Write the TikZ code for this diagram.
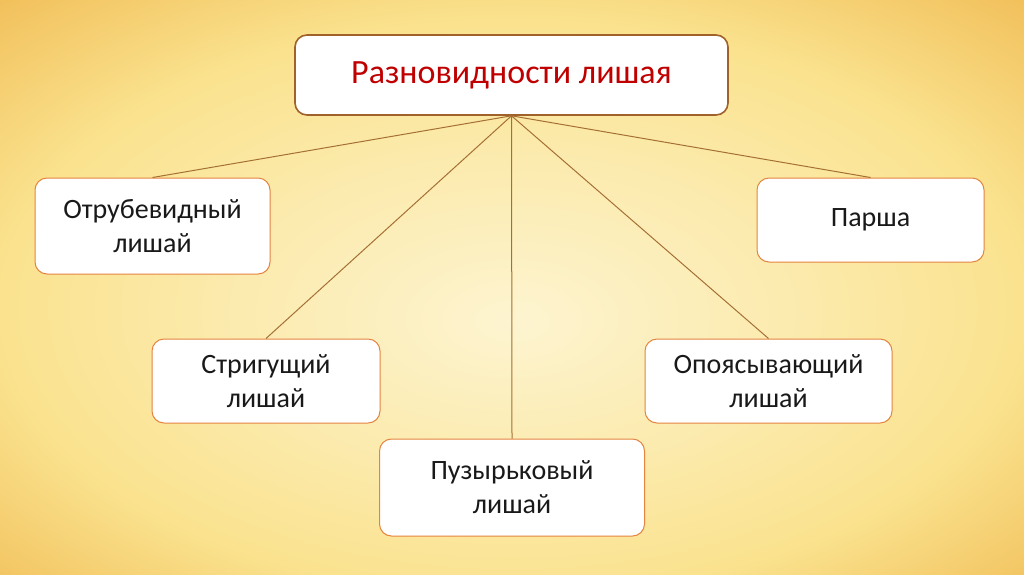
\documentclass[tikz,border=0pt]{standalone}
\usepackage{fontspec}
\setmainfont{Carlito}
\usepackage{tikz}
\usepackage{xcolor}

\definecolor{glowin}{RGB}{253,244,208}
\definecolor{glowmid}{RGB}{250,226,142}
\definecolor{glowout}{RGB}{241,190,88}
\definecolor{boxline}{RGB}{228,132,62}
\definecolor{topline}{RGB}{160,98,42}
\definecolor{linkline}{RGB}{165,112,52}
\definecolor{titlered}{RGB}{192,0,0}

\pgfdeclareradialshading{bgglow}{\pgfpoint{0bp}{-3bp}}{color(0bp)=(glowin); color(12bp)=(glowin!55!glowmid); color(25bp)=(glowmid); color(37bp)=(glowout); color(60bp)=(glowout)}

\tikzset{
  kind/.style={draw=boxline, line width=1pt, fill=white, rounded corners=12pt,
    align=center, inner sep=0pt, font=\fontsize{28}{34}\selectfont, text=black!90},
  title/.style={kind, draw=topline, line width=1.6pt, text=titlered,
    font=\fontsize{34}{40}\selectfont},
  link/.style={draw=linkline, line width=1pt}
}

\begin{document}
\begin{tikzpicture}[x=1pt,y=1pt,yscale=-1,xscale=1]
        % background
        \shade[shading=bgglow] (0,0) rectangle (1024,574);
        \useasboundingbox (0,0) rectangle (1024,574);

        % Boxes
        \node[title, minimum width=433pt, minimum height=80pt] (top) at (511.5,75) {Разновидности лишая};
        \node[kind, minimum width=235pt, minimum height=96pt] (otrub) at (152.5,226) {Отрубевидный\\лишай};
        \node[kind, minimum width=227pt, minimum height=84pt] (parsha) at (870.5,220) {Парша};
        \node[kind, minimum width=228pt, minimum height=84pt] (strig) at (266,381) {Стригущий\\лишай};
        \node[kind, minimum width=247pt, minimum height=84pt] (opoyas) at (768.5,381) {Опоясывающий\\лишай};
        \node[kind, minimum width=265pt, minimum height=97pt] (puzyr) at (512,487.5) {Пузырьковый\\лишай};

        % Links
        \foreach \kid in {otrub,parsha,strig,opoyas,puzyr}
          \draw[link] (top.south) -- (\kid.north);

\end{tikzpicture}
\end{document}
